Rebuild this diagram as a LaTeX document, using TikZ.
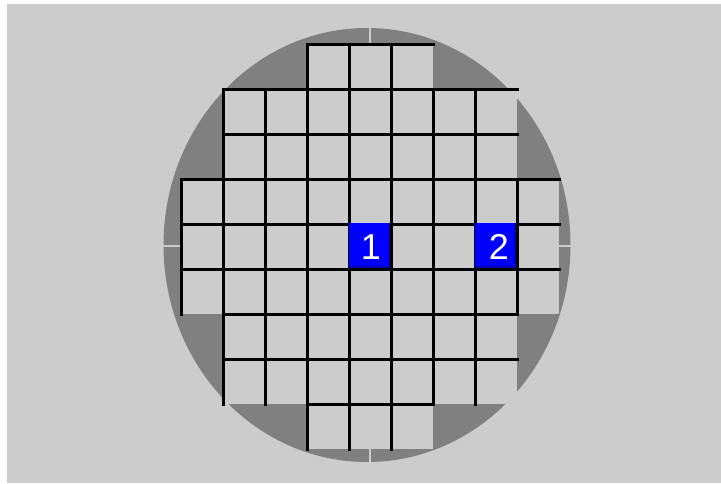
\documentclass[tikz,border=0pt]{standalone}
\usepackage{fontspec}
\setmainfont{Liberation Sans}
\usepackage{tikz}
\usetikzlibrary{calc}

\definecolor{panelgray}{HTML}{CCCCCC}
\definecolor{wafergray}{HTML}{808080}
\definecolor{dieblue}{HTML}{0000FF}
\definecolor{dieshade}{HTML}{0000B4}

\begin{document}
\begin{tikzpicture}[x=1pt, y=-1pt,
        gridline/.style={line width=3pt, line cap=rect},
        notch/.style={panelgray, line width=2pt},
        dielabel/.style={text=white, font=\fontsize{36}{36}\selectfont, inner sep=0pt}]
            \useasboundingbox (0,0) rectangle (721,483);
            \fill[white] (0,0) rectangle (721,483);
            \fill[panelgray] (7,4) rectangle (721,483);

            % wafer and its notches
            \coordinate (W) at (367,245);
            \fill[wafergray] (W) ellipse [x radius=203.5, y radius=217];
            \draw[notch] (370,20) -- (370,470);
            \draw[notch] (155,246) -- (580,246);

            % rows of dies: row / first column / last column
            \foreach \r/\a/\b in {0/3/5, 1/1/7, 2/1/7, 3/0/8, 4/0/8, 5/0/8, 6/1/7, 7/1/7, 8/3/5} {
                \foreach \c in {\a,...,\b} {
                    \coordinate (P) at (181+42*\c, 44+45*\r);
                    \fill[panelgray] (P) rectangle ++(42,45);
                    \draw[gridline] (P) -- ++(42,0);
                    \draw[gridline] (P) -- ++(0,45);
                }
            }

            % marked dies
            \foreach \n/\c/\dx in {1/4/22, 2/7/24} {
                \coordinate (D\n) at (181+42*\c, 224);
                \fill[dieshade] (D\n) ++(0,-1) rectangle ++(41,44.5);
                \fill[dieblue] (D\n) ++(0,-1) rectangle ++(39,42.5);
                \node[dielabel] (die\n) at ($(D\n)+(\dx,23)$) {\n};
            }
        \end{tikzpicture}
\end{document}
